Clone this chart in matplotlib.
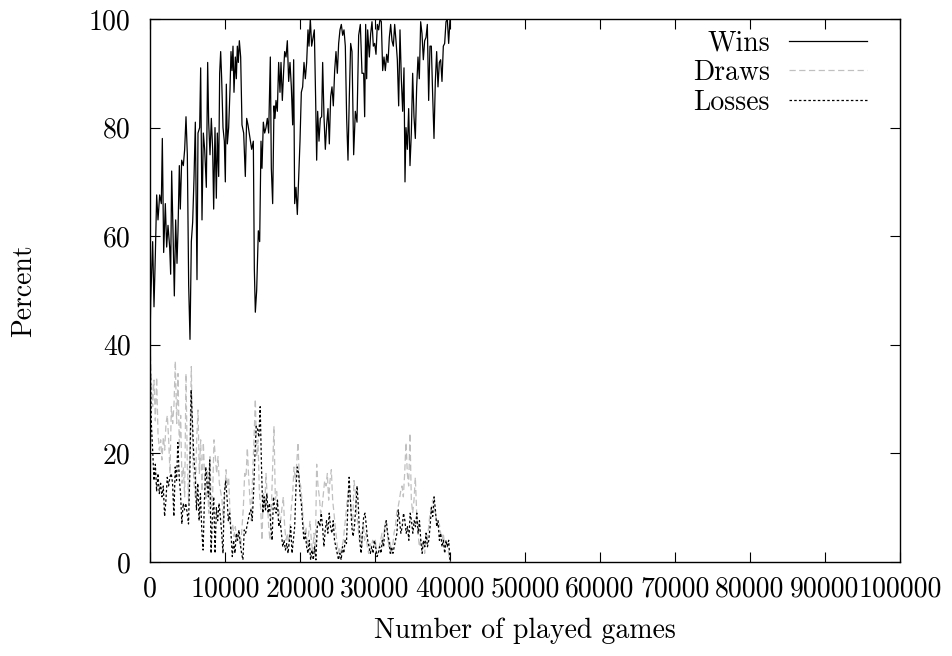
import numpy as np
import matplotlib
matplotlib.use("Agg")
import matplotlib.pyplot as plt

# ---------------- data ----------------
win_games = [0, 89, 355, 533, 711, 889, 1066, 1289, 1511, 1644, 1822, 2044, 2222, 2400, 2622, 2755,
             2889, 3066, 3244, 3422, 3600, 3733, 3911, 4044, 4222, 4444, 4622, 4800, 4977, 5155,
             5333, 5511, 5689, 5866, 6044, 6266, 6400, 6622, 6755, 6933, 7111, 7289, 7511, 7689,
             7822, 8000, 8177, 8355, 8489, 8666, 8844, 8977, 9155, 9289, 9422, 9555, 9733, 9911,
             10044, 10177, 10311, 10488, 10666, 10799, 10933, 11066, 11199, 11377, 11511, 11644,
             11777, 11911, 12088, 12266, 12488, 12710, 12888, 13066,
             13555, 13777, 13911, 14044, 14222, 14444, 14622, 14800, 14933, 15111, 15289, 15466,
             15644, 15822, 16044, 16177, 16355, 16533, 16666, 16799, 16977, 17155, 17333, 17466,
             17644, 17822, 17955, 18133, 18311, 18488, 18666, 18844, 19022, 19155, 19288, 19466,
             19644, 19822, 20000, 20177, 20355, 20533, 20711, 20888, 21066, 21199, 21377, 21555,
             21733, 21911, 22088, 22222, 22355, 22533, 22710, 22888, 23021, 23199, 23377, 23555,
             23733, 23910, 24088, 24266, 24443, 24621, 24799, 24977, 25154, 25332, 25510, 25688,
             25866, 26043, 26221, 26399, 26576, 26754, 26932,
             27155, 27377, 27600, 27822, 28044, 28266, 28488, 28622, 28755, 28888, 29022, 29244,
             29422, 29600, 29777, 29955, 30133, 30311, 30488, 30666, 30844, 31022, 31199, 31377,
             31555, 31733, 31911, 32088, 32266, 32444, 32622, 32799, 32977, 33155, 33333, 33510,
             33688, 33866, 33999, 34133, 34310, 34488, 34666, 34844, 35021, 35199, 35377, 35555,
             35733, 35910, 36088, 36266, 36444, 36621, 36799, 36977, 37155, 37332, 37510, 37688,
             37866, 38043, 38221, 38399, 38577, 38754, 38932, 39110, 39288, 39466, 39643, 39821,
             40000]

wins = [40, 48, 59, 47, 56.5, 67.6, 63, 67.6, 66, 78, 57, 66, 58, 62, 58, 53,
        72, 61, 49, 63, 55, 61, 73, 65, 74, 73, 76, 82, 75, 51,
        41, 59, 62.6, 70.6, 81, 52, 79, 80, 91, 63, 79, 76, 69, 92,
        81, 75, 81.7, 76, 65, 80, 67, 79, 71, 90, 94, 89, 80, 77.5,
        70, 88, 77, 80, 87, 94, 90.5, 95, 86.5, 93, 89, 95,
        92, 96, 93, 80.5, 79, 71, 81.7, 80.5,
        76, 77.5, 54, 46, 50, 61, 59, 77.5, 72.5, 81, 79, 80,
        81.7, 79, 93, 72.5, 66, 84, 81.7, 85, 83, 92, 86.5, 92,
        85, 90.5, 94, 93, 96, 88.5, 92, 87.5, 80.5, 92.5, 66, 69,
        64, 70.6, 77.5, 86.5, 87.5, 92, 89, 92, 98, 95, 100, 95,
        96.5, 98, 85, 74, 83, 77.5, 81.7, 82, 92, 82, 76, 80.5,
        83.5, 77, 85.7, 87.5, 84, 90.5, 94, 90, 95.5, 98, 99, 97,
        98, 95, 81.7, 74, 85.7, 95.5, 94,
        75, 83, 81, 97, 99, 90, 90, 82, 99, 89, 98, 93,
        97.3, 99.5, 95, 95.5, 93.5, 99, 98, 100, 99.5, 90.5, 93, 90.5,
        93.5, 92, 96.6, 99, 96, 95, 99, 96, 92.5, 84, 98, 89,
        83, 91, 70, 80, 76, 83.5, 73, 79, 90, 82, 78, 87.5,
        93, 89, 99.5, 97.3, 92.5, 96, 96.6, 99, 85, 95, 95, 86,
        78, 88.5, 94, 87.5, 92, 92.5, 88.5, 95, 95.5, 99.5, 100, 95.5,
        100]

draws = [40, 34, 28.6, 33.5, 26, 34, 23.7, 20.6, 22.5, 18.8, 23, 20.6, 25.5, 27, 22.5, 16.3,
         28.6, 25.5, 29, 37, 25.5, 34.7, 21, 27, 14.5, 17.5, 12, 34.7, 17.5, 10.8, 22.5, 36,
         19.4, 14.5, 12, 22.5, 28, 16.3, 22.5, 13, 22, 15.6, 11.4, 17, 9, 19.4, 10, 12.6,
         22.5, 19.4, 16.3, 19.4, 14.5, 13, 11.4, 7, 12, 17, 13.9, 15.6, 9, 5.9, 7, 4.7,
         6.5, 4, 5.3, 4.7, 2.8, 6.5, 10, 16.3, 15.6, 21, 15.6, 11.4, 7.6,
         16.3, 22.5, 30, 19.4, 22.5, 13, 10, 4, 13, 10, 16.3, 11.4, 6.5, 4, 10, 17.5,
         25, 11.4, 13, 10, 9, 7.6, 10, 12, 6.5, 4, 5.3, 2.8, 6.5, 10, 12.6, 17.5,
         15, 18, 22, 15, 14, 11.4, 7, 5.3, 6.5, 2.8, 5.3, 7.6, 4, 1.6, 5.3, 1.6,
         18, 14, 12, 9, 10, 12.6, 15, 14, 16.3, 11.4, 15, 17, 11.4, 9, 6.5, 4,
         1.6, 2.8, 1, 2.8, 4, 6.5, 9, 11.4, 14, 12, 9, 6.5,
         15, 13, 9, 6.5, 4, 5.3, 2.8, 7, 4, 5.3, 2.8, 1.6, 3.4, 2.8, 4, 3.4,
         4, 1.6, 1.6, 2.8, 4, 5.3, 4, 6.5, 7.6, 5.3, 2.8, 4, 1.6, 2.8, 5.3, 6.5,
         9, 10, 11.4, 13, 14, 12, 16.3, 22, 16.3, 14, 23.7, 11.4, 9, 11.4, 15.6, 9,
         5.3, 2.8, 4, 2.8, 4, 1.6, 5.3, 4, 6.5, 9, 10, 11.4, 10, 9, 7.6, 6.5,
         7, 5.3, 4, 5.3, 2.8, 4, 2.8, 1.6, 0]

losses = [40, 25.5, 20.6, 15, 18, 13, 16.3, 12.6, 14.5, 12, 14, 8.4, 11.4, 15.6, 14, 15.6,
          16.3, 14.5, 8.4, 17.5, 15, 22, 15.6, 12.6, 7, 10.8, 9.6, 10.8, 9, 7, 16.3, 31.7,
          25.5, 19.4, 16.3, 9.6, 14.5, 7.6, 12.6, 5.9, 2.2, 11.4, 17.5, 14.5, 12, 18.8, 1.6, 8.4,
          12, 1.6, 10, 7.6, 10.8, 8.4, 5.3, 1.6, 12.6, 15, 12, 7.6, 9, 5.3, 1, 4,
          1.6, 5.3, 4, 5.9, 3.4, 1.6, 0.4, 5.9, 5.3, 6.5, 7.6, 9, 9.6, 7.6,
          12.6, 19.4, 25, 24.5, 23, 28.6, 17.5, 9, 12, 9.6, 12.6, 9, 10.8, 6.5, 4, 12,
          10, 9, 11.4, 6.5, 7.6, 5.3, 2.8, 4, 2.2, 3.4, 1.6, 4, 6.5, 1.6, 4, 6.5,
          14, 17.5, 16.3, 12.6, 10.8, 7, 4, 5.3, 2.8, 1.6, 4, 0.4, 2.2, 0.4, 2.8, 0.4,
          6.5, 7.6, 6.5, 9, 6.5, 2.8, 5.9, 7.6, 5.3, 9, 6.5, 5.3, 7.6, 4, 2.8, 1.6,
          0.4, 1.6, 0.4, 2.8, 1.6, 4, 3.4, 10, 15.6, 11.4, 6.5, 4.7,
          6.5, 10, 14, 10, 4, 1.6, 5.3, 8.4, 9, 6.5, 4, 2.8, 1.6, 2.8, 1.6, 4,
          2.8, 1, 1.6, 2.8, 1.6, 4, 2.8, 6.5, 7.6, 5.3, 4, 1.6, 2.8, 1.6, 2.8, 4,
          5.3, 9.6, 7.6, 5.3, 6.5, 9, 7.6, 5.3, 6.5, 4, 9, 7.6, 5.3, 7.6, 6.5, 9,
          5.3, 7.6, 4, 1.6, 4, 2.8, 5.3, 2.8, 4, 6.5, 10, 8.4, 12, 9.6, 6.5, 7.6,
          4, 5.3, 2.8, 4, 1.6, 4, 2.8, 4, 0]

# sampling grid of the draw / loss records (equally spaced up to 40000 games)
last_game = 40000
draw_games = np.linspace(0, last_game, len(draws))
loss_games = np.linspace(0, last_game, len(losses))

x_ticks = [0, 10000, 20000, 30000, 40000, 50000, 60000, 70000, 80000, 90000, 100000]
y_ticks = [0, 20, 40, 60, 80, 100]

# ---------------- style ----------------
plt.rcParams['font.family'] = ['cmr10', 'DejaVu Serif']
plt.rcParams['axes.formatter.use_mathtext'] = True
plt.rcParams['lines.scale_dashes'] = False
FS = 20

fig = plt.figure(figsize=(9.53, 6.56), dpi=100)
ax = fig.add_axes([150 / 953, 1 - 562 / 656, 750 / 953, 543 / 656])

ax.plot(win_games, wins, color='black', lw=0.9, label='Wins', zorder=2)
ax.plot(draw_games, draws, color='#c0c0c0', lw=0.9, dashes=(4.5, 2.5), label='Draws', zorder=2)
ax.plot(loss_games, losses, color='black', lw=0.9, dashes=(1.8, 1.6), label='Losses', zorder=2)

ax.set_xlim(0, 100000)
ax.set_ylim(0, 100)
ax.set_xticks(x_ticks)
ax.set_xticklabels([str(t) for t in x_ticks])
ax.set_yticks(y_ticks)
ax.set_yticklabels([str(t) for t in y_ticks])
ax.tick_params(direction='in', length=7, width=0.8, top=True, right=True,
               labelsize=FS, colors='black')
ax.tick_params(axis='y', pad=14)
ax.tick_params(axis='x', pad=10)
for s in ax.spines.values():
    s.set_linewidth(1.0)
    s.set_zorder(3)

ax.set_xlabel('Number of played games', fontsize=FS, labelpad=11)
ax.set_ylabel('Percent', fontsize=FS, labelpad=37)

leg = ax.legend(loc='upper right', frameon=False, fontsize=FS, markerfirst=False,
                handlelength=2.8, handletextpad=0.7, labelspacing=0.12,
                borderaxespad=0.0, borderpad=0.0,
                bbox_to_anchor=(867 / 953, 1 - 30 / 656), bbox_transform=fig.transFigure)

fig.savefig('out.png', dpi=100)
